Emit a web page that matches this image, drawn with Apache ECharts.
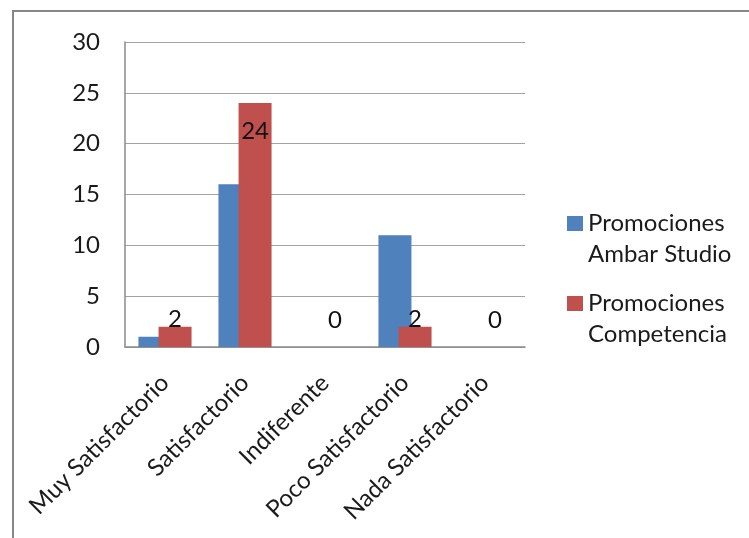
<!DOCTYPE html>
<html>
<head>
<meta charset="utf-8">
<script src="https://cdn.jsdelivr.net/npm/echarts@6/dist/echarts.min.js"></script>
<style>
  html, body { margin: 0; padding: 0; background: #fff; }
  #chart { width: 749px; height: 538px; }
</style>
</head>
<body>
<div id="chart"></div>
<script>
// Survey answers and counts per promotion source
const categories = ['Muy Satisfactorio', 'Satisfactorio', 'Indiferente', 'Poco Satisfactorio', 'Nada Satisfactorio'];
const ambarValues = [1, 16, 0, 11, 0];
const competenciaValues = [2, 24, 0, 2, 0];
const seriesNames = ['Promociones\nAmbar Studio', 'Promociones\nCompetencia'];
const yTicks = { min: 0, max: 30, interval: 5 };

const FONT = 'Lato, "Open Sans", sans-serif';
const FS = 24;

// Value labels: inside the top of tall bars, just above short ones
function labelFor(v) {
  if (v >= 10) return { position: 'insideTop', distance: 16 };
  if (v > 0) return { position: 'top', distance: -5 };
  return { position: 'top', distance: 15 };
}

const chart = echarts.init(document.getElementById('chart'), null, { renderer: 'canvas' });

chart.setOption({
  backgroundColor: '#ffffff',
  animation: false,
  textStyle: { fontFamily: FONT },
  graphic: [{
    type: 'polyline',
    shape: { points: [[13, 538], [13, 11], [749, 11]] },
    style: { stroke: '#878787', lineWidth: 2, fill: null },
    silent: true
  }],
  grid: { left: 125, right: 224, top: 42, bottom: 191, containLabel: false },
  legend: {
    orient: 'vertical',
    left: 567,
    top: 177,
    padding: 0,
    itemGap: -13,
    itemWidth: 16,
    itemHeight: 15,
    icon: 'rect',
    // leading blank line keeps the first line of each name level with its swatch
    formatter: name => '\n' + name,
    textStyle: {
      fontFamily: FONT,
      fontSize: FS,
      lineHeight: 31,
      color: '#1a1a1a'
    },
    data: seriesNames
  },
  xAxis: {
    type: 'category',
    data: categories,
    boundaryGap: true,
    axisLine: { show: true, lineStyle: { color: '#8a8a8a', width: 1.5 } },
    axisTick: { show: false },
    axisLabel: {
      interval: 0,
      rotate: 45,
      margin: 32,
      fontFamily: FONT,
      fontSize: FS,
      color: '#1a1a1a'
    }
  },
  yAxis: {
    type: 'value',
    min: yTicks.min,
    max: yTicks.max,
    interval: yTicks.interval,
    axisLine: { show: true, lineStyle: { color: '#8a8a8a', width: 1.5 } },
    axisTick: { show: false },
    axisLabel: { margin: 25, fontFamily: FONT, fontSize: FS, color: '#1a1a1a' },
    splitLine: { show: true, lineStyle: { color: '#a3a3a3', width: 1 } }
  },
  series: [
    {
      name: seriesNames[0],
      type: 'bar',
      data: ambarValues,
      barWidth: 33,
      barGap: '-39%',
      itemStyle: { color: '#4F81BD' }
    },
    {
      name: seriesNames[1],
      type: 'bar',
      barWidth: 33,
      barGap: '-39%',
      data: competenciaValues.map(v => ({ value: v, label: labelFor(v) })),
      itemStyle: { color: '#C0504D' },
      label: {
        show: true,
        fontFamily: FONT,
        fontSize: FS,
        color: '#111'
      },
      z: 3
    }
  ]
});
</script>
</body>
</html>
